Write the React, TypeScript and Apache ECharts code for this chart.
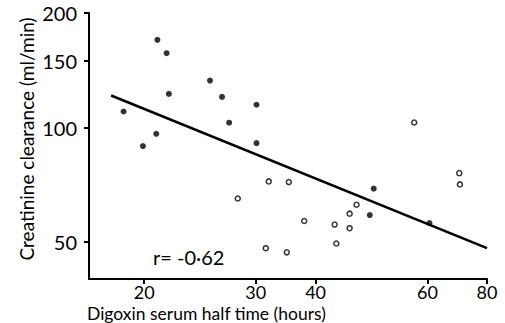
import React, { useEffect, useRef } from "react";
import * as echarts from "echarts";

// Digoxin serum half time (hours), creatinine clearance (ml/min)
const filledHours = [21.1, 21.9, 22.1, 18.4, 21.0, 19.9, 26.1, 27.4, 31.5, 28.2, 31.5, 50.6, 49.8, 63.4];
const filledClearance = [170, 156.8, 122.6, 110.2, 96.3, 89.4, 132.9, 120.4, 114.8, 103.0, 91.0, 69.1, 58.9, 56.1];

const openHours = [33.1, 35.9, 29.2, 38.2, 43.2, 45.9, 47.2, 45.9, 43.5, 32.7, 35.6, 71.5, 71.7, 59.6];
const openClearance = [72.2, 71.9, 65.1, 56.8, 55.6, 59.4, 62.7, 54.4, 49.6, 48.2, 47.0, 75.9, 70.9, 103.1];

const fitHours = [17.5, 80];
const fitClearance = [121.4, 48.2];

// tick positions as drawn on the original figure, and their labels
const xTickValues = [20, 31.4, 40, 62.9, 80];
const xTickLabels = ["20", "30", "40", "60", "80"];
const yTickValues = [50, 100, 150, 200];

const FONT = "Lato";

export default function App() {
  const ref = useRef<HTMLDivElement>(null);
  useEffect(() => {
    if (!ref.current) return;
    const chart = echarts.init(ref.current, null, { renderer: "svg" });
    const zip = (a: number[], b: number[]) => a.map((v, i) => [v, b[i]]);
    chart.setOption({
      animation: false,
      backgroundColor: "#fff",
      grid: { left: 89, right: 18, top: 13, bottom: 44 },
      xAxis: {
        type: "log",
        logBase: 10,
        min: 16,
        max: 80,
        axisLine: { show: true, lineStyle: { color: "#000", width: 2 } },
        axisTick: { show: true, length: 5, lineStyle: { color: "#000", width: 2 }, customValues: xTickValues },
        axisLabel: {
          customValues: xTickValues,
          margin: 4,
          color: "#000",
          fontFamily: FONT,
          fontSize: 18,
          formatter: (v: number) => {
            let best = 0;
            xTickValues.forEach((t, i) => {
              if (Math.abs(t - v) < Math.abs(xTickValues[best] - v)) best = i;
            });
            return xTickLabels[best];
          },
        },
        splitLine: { show: false },
        minorTick: { show: false },
      },
      yAxis: {
        type: "log",
        logBase: 10,
        min: 40,
        max: 200,
        axisLine: { show: true, lineStyle: { color: "#000", width: 2 } },
        axisTick: { show: true, length: 5, lineStyle: { color: "#000", width: 2 }, customValues: yTickValues },
        axisLabel: {
          customValues: yTickValues,
          margin: 12,
          color: "#000",
          fontFamily: FONT,
          fontSize: 20,
          formatter: (v: number) => String(Math.round(v)),
        },
        splitLine: { show: false },
      },
      series: [
        {
          type: "line",
          data: zip(fitHours, fitClearance),
          showSymbol: false,
          symbol: "none",
          lineStyle: { color: "#000", width: 2.5 },
          z: 1,
        },
        {
          type: "scatter",
          data: zip(filledHours, filledClearance),
          symbol: "circle",
          symbolSize: 6,
          itemStyle: { color: "#000" },
          z: 3,
        },
        {
          type: "scatter",
          data: zip(openHours, openClearance),
          symbol: "circle",
          symbolSize: 5,
          itemStyle: { color: "#fff", borderColor: "#000", borderWidth: 1.5 },
          z: 3,
        },
      ],
      graphic: [
        {
          type: "text",
          x: 87,
          y: 313,
          style: {
            text: "Digoxin serum half time (hours)",
            fontFamily: FONT,
            fontSize: 17.5,
            fill: "#000",
            verticalAlign: "middle",
            align: "left",
          },
        },
        {
          type: "text",
          x: 26,
          y: 139,
          rotation: Math.PI / 2,
          style: {
            text: "Creatinine clearance (ml/min)",
            fontFamily: FONT,
            fontSize: 19,
            fill: "#000",
            verticalAlign: "middle",
            align: "center",
          },
        },
        {
          type: "text",
          x: 153,
          y: 257,
          style: {
            text: "r= -0·62",
            fontFamily: FONT,
            fontSize: 20,
            fill: "#000",
            verticalAlign: "middle",
            align: "left",
          },
        },
      ],
    });
    return () => chart.dispose();
  }, []);
  return (
    <div
      ref={ref}
      style={{ position: "fixed", left: 0, top: 0, width: 505, height: 323, background: "#fff" }}
    />
  );
}
